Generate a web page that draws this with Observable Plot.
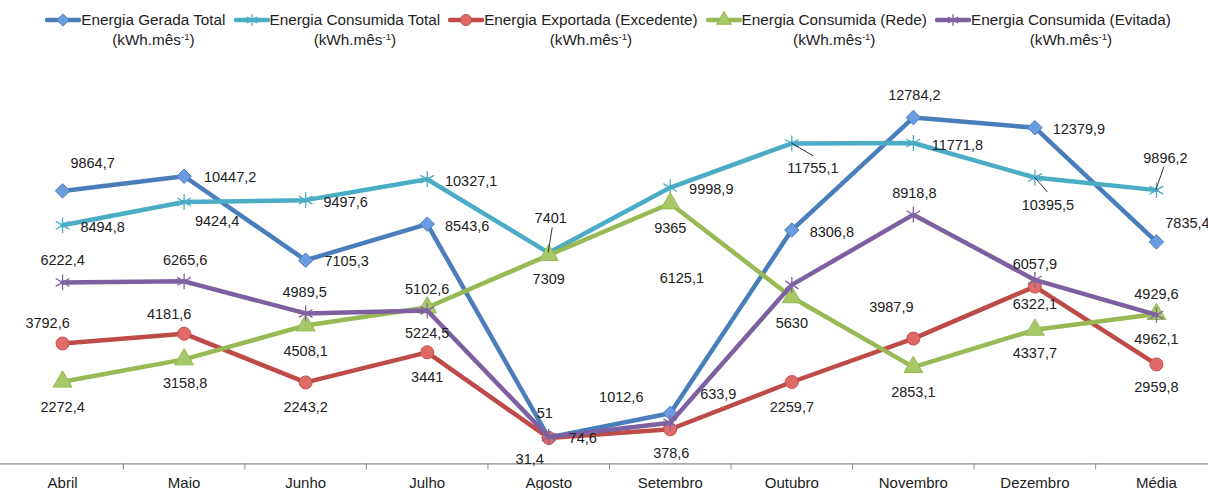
<!DOCTYPE html>
<html><head><meta charset="utf-8">
<script src="https://cdn.jsdelivr.net/npm/d3@7"></script>
<script src="https://cdn.jsdelivr.net/npm/@observablehq/plot@0.6"></script>
<style>
body{margin:0;background:#fff;font-family:"Liberation Sans",Arial,sans-serif;color:#222}
#legend{height:50px;display:flex;justify-content:center;align-items:flex-start;padding-top:10px;padding-left:8px;box-sizing:border-box;font-size:15.3px;line-height:20px}
.item{display:flex;align-items:flex-start;margin-right:8px}
.item:last-child{margin-right:0}
.item .t{text-align:center;white-space:nowrap}
sup{font-size:9.5px;line-height:0;vertical-align:5px}
</style></head><body>
<div id="legend"></div>
<div id="chart"></div>
<script>
// ---- data ----
const months = ["Abril","Maio","Junho","Julho","Agosto","Setembro","Outubro","Novembro","Dezembro","Média"];
const seriesNames = ["Energia Gerada Total","Energia Consumida Total","Energia Exportada (Excedente)","Energia Consumida (Rede)","Energia Consumida (Evitada)"];
const unitLabel = "(kWh.mês";
const geradaTotal    = [9864.7, 10447.2, 7105.3, 8543.6, 51, 1012.6, 8306.8, 12784.2, 12379.9, 7835.4];
const consumidaTotal = [8494.8, 9424.4, 9497.6, 10327.1, 7401, 9998.9, 11755.1, 11771.8, 10395.5, 9896.2];
const exportada      = [3792.6, 4181.6, 2243.2, 3441, 31.4, 378.6, 2259.7, 3987.9, 6057.9, 2959.8];
const consumidaRede  = [2272.4, 3158.8, 4508.1, 5224.5, 7309, 9365, 5630, 2853.1, 4337.7, 4962.1];
const consumidaEvitada = [6222.4, 6265.6, 4989.5, 5102.6, 74.6, 633.9, 6125.1, 8918.8, 6322.1, 4929.6];
const seriesValues = [geradaTotal, consumidaTotal, exportada, consumidaRede, consumidaEvitada];

// ---- styles (separate from data) ----
const seriesStyle = [
  {line:"#4a7ebb", symbol:"diamond2", fill:"#6b9be0", stroke:"#4a7ebb", r:6.5, sw:1},
  {line:"#4bacc6", symbol:"asterisk", fill:"none", stroke:"#4bacc6", r:7.5, sw:1.3},
  {line:"#be4b48", symbol:"circle", fill:"#e06a68", stroke:"#c0504d", r:6.5, sw:1},
  {line:"#98b954", symbol:"triangle", fill:"#a6c867", stroke:"#98b954", r:7, sw:1},
  {line:"#7d60a0", symbol:"asterisk", fill:"none", stroke:"#8064a2", r:7.5, sw:1.3}
];
// label offsets in pixels [dx, dy] per series and month
const labelOffsets = [
  [[30,-28],[46,1],[41,1],[40,2],[-4,-24],[-49,-16],[40,2],[1,-22],[44,2],[31,-19]],
  [[40,2],[33,19],[40,2],[44,2],[2,-34],[41,2],[21,25],[44,2],[13,28],[9,-32]],
  [[-15,-20],[-15,-19],[0,25],[0,25],[-19,21],[1,24],[0,25],[-22,-31],[0,-22],[0,23]],
  [[0,26],[1,24],[0,26],[0,26],[0,24],[0,25],[0,26],[0,25],[0,24],[0,25]],
  [[0,-22],[1,-21],[-1,-21],[0,-21],[34,1],[48,-28],[-110,-7],[1,-21],[0,24],[0,-21]]
];
// leader lines: [series, month index, x1, y1, x2, y2] (pixel offsets from point)
const leaders = [[1,4,0,0,4,-25],[1,6,0,0,22,13],[1,8,0,0,13,15],[1,9,0,0,8,-23]];

const fmt = v => String(v).replace(".", ",");

// ---- legend ----
const legend = document.getElementById("legend");
seriesNames.forEach((name, k) => {
  const st = seriesStyle[k];
  const item = document.createElement("div");
  item.className = "item";
  const svg = d3.create("svg").attr("width", 36).attr("height", 20);
  svg.append("line").attr("x1", 2).attr("x2", 34).attr("y1", 10).attr("y2", 10)
    .attr("stroke", st.line).attr("stroke-width", 4.5).attr("stroke-linecap", "round");
  const sym = {diamond2: d3.symbolDiamond2 || d3.symbolSquare2, asterisk: d3.symbolAsterisk, circle: d3.symbolCircle, triangle: d3.symbolTriangle}[st.symbol];
  svg.append("path").attr("transform", "translate(18,10)")
    .attr("d", d3.symbol(sym, Math.PI * 5.5 * 5.5)())
    .attr("fill", st.fill).attr("stroke", st.stroke).attr("stroke-width", st.sw);
  item.appendChild(svg.node());
  const t = document.createElement("div");
  t.className = "t";
  t.innerHTML = name + "<br>" + unitLabel + "<sup>-1</sup>)";
  item.appendChild(t);
  legend.appendChild(item);
});

// ---- chart ----
const marks = [];
marks.push(Plot.ruleY([-1000], {stroke: "#8c8c8c", strokeWidth: 1.2}));
marks.push(Plot.axisX({ticks: d3.range(0.5, 9, 1), tickSize: 6, tickFormat: () => "", stroke: "#8c8c8c", label: null}));
marks.push(Plot.axisX({ticks: d3.range(months.length), tickSize: 0, tickPadding: 13, tickFormat: i => months[i], fontSize: 15, label: null}));

seriesValues.forEach((vals, k) => {
  const st = seriesStyle[k];
  const data = vals.map((v, i) => ({i, v}));
  marks.push(Plot.line(data, {x: "i", y: "v", stroke: st.line, strokeWidth: 4.5, strokeLinejoin: "round", strokeLinecap: "round"}));
  marks.push(Plot.dot(data, {x: "i", y: "v", symbol: st.symbol, r: st.r, fill: st.fill, stroke: st.stroke, strokeWidth: st.sw}));
});
seriesValues.forEach((vals, k) => {
  vals.forEach((v, i) => {
    const [dx, dy] = labelOffsets[k][i];
    marks.push(Plot.text([{i, v}], {x: "i", y: "v", text: d => fmt(d.v), dx, dy, fontSize: 14.5, fill: "#222", textAnchor: "middle"}));
  });
});

const chart = Plot.plot({
  width: 1208,
  height: 440,
  marginTop: 36.5,
  marginBottom: 26.6,
  marginLeft: 0,
  marginRight: 0,
  style: {fontFamily: "'Liberation Sans', Arial, sans-serif", color: "#222", background: "#fff", overflow: "visible"},
  x: {type: "linear", domain: [-0.5, 9.5], range: [1.3, 1216.7], label: null},
  y: {domain: [-1000, 14000], axis: null, label: null},
  marks
});
document.getElementById("chart").appendChild(chart);

// leader lines for a few labels, positioned through the plot's scales
const sx = chart.scale("x"), sy = chart.scale("y");
const g = d3.select(chart).append("g");
leaders.forEach(([k, i, x1, y1, x2, y2]) => {
  const px = sx.apply(i), py = sy.apply(seriesValues[k][i]);
  g.append("line").attr("x1", px + x1).attr("y1", py + y1).attr("x2", px + x2).attr("y2", py + y2)
    .attr("stroke", "#333").attr("stroke-width", 1);
});
</script>
</body></html>
